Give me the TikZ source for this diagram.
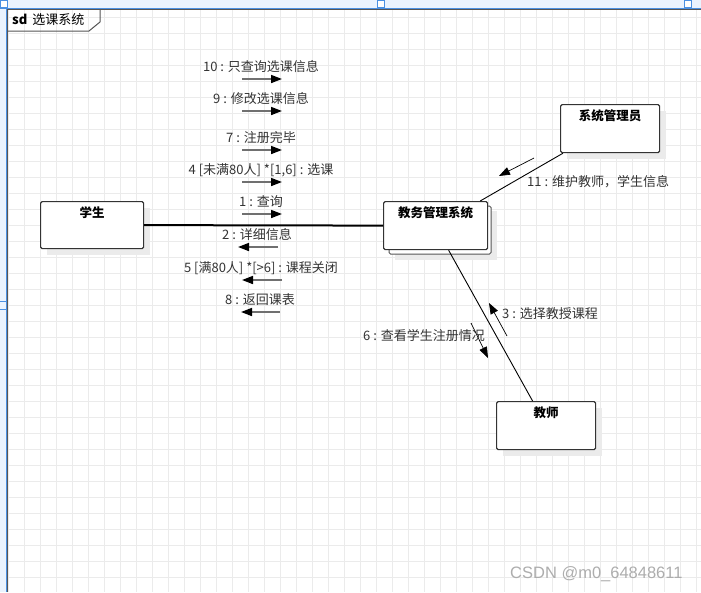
\documentclass[tikz,border=0pt]{standalone}
\usepackage{fontspec}
\setmainfont{Noto Sans CJK SC}
\newfontfamily\markfont{Liberation Sans}
\usetikzlibrary{arrows.meta}
\definecolor{gridc}{HTML}{EBEBEB}
\definecolor{rulerfill}{HTML}{EAF3FE}
\definecolor{rulerline}{HTML}{4A90E2}
\definecolor{framec}{HTML}{555555}
\definecolor{boxc}{HTML}{333333}
\definecolor{shadowc}{HTML}{EBEBEB}
\definecolor{txtc}{HTML}{333333}
\definecolor{msgc}{HTML}{707070}
\definecolor{markc}{HTML}{ADADAD}

\begin{document}
\begin{tikzpicture}[x=1pt,y=-1pt,
  obj/.style={draw=boxc, line width=1.2pt, fill=white, rounded corners=1.5pt,
    inner sep=0pt, anchor=north west},
  objback/.style={draw=framec, line width=1pt, fill=white, rounded corners=1.5pt},
  objtitle/.style={font=\fontsize{12.5}{14}\selectfont\bfseries, text=black, inner sep=0pt},
  link/.style={draw=black, line width=0.9pt},
  msglabel/.style={font=\fontsize{13}{15}\selectfont, text=txtc, inner sep=0pt},
  msgarrow/.style={draw=msgc, line width=1.6pt,
    -{Triangle[length=11pt,width=8pt,fill=black,color=black]}},
  diagarrow/.style={draw=black, line width=0.7pt,
    -{Triangle[length=11pt,width=8pt,fill=black,color=black]}},
  shadowbox/.style={fill=shadowc}
]
\useasboundingbox (0,0) rectangle (701,592);
\fill[white] (0,0) rectangle (701,592);

% background grid
\foreach \x in {8,24,...,700} \draw[gridc, line width=0.9pt] (\x,0) -- (\x,592);
\foreach \y in {1,17,...,591} \draw[gridc, line width=0.9pt] (0,\y) -- (701,\y);

% rulers along the top and left edges
\fill[rulerfill] (0,0) rectangle (701,8);
\fill[rulerfill] (0,0) rectangle (7,592);
\draw[rulerline, line width=1pt] (0,8) -- (701,8);
\draw[rulerline, line width=1pt] (6.5,8) -- (6.5,592);
\foreach \hx in {0,377,684}
  \draw[rulerline, fill=white, line width=0.8pt] (\hx+0.5,0.5) rectangle (\hx+7,7.5);
\draw[rulerline, line width=1pt] (0,301) -- (7,301);
\draw[rulerline, line width=1pt] (0,309) -- (7,309);

% sd frame and its name tab
\draw[framec, line width=1pt] (7.5,592) -- (7.5,9) -- (701,9);
\draw[framec, line width=1pt] (7.5,31) -- (89,31) -- (100,22) -- (100,9);
\node[anchor=west, inner sep=0pt, font=\fontsize{13}{15}\selectfont, text=black]
  (frametitle) at (12,20) {\textbf{sd}\hspace{5pt}选课系统};

% shadows
\fill[shadowbox] (47,208) rectangle (150,255);
\fill[shadowbox] (395,211) rectangle (497,260);
\fill[shadowbox] (567,111) rectangle (666,159);
\fill[shadowbox] (503,408) rectangle (602,456);

% objects
\node[obj, minimum width=103pt, minimum height=47pt] (stu) at (40,201) {};
\node[objtitle] (stu-t) at ([yshift=-12pt]stu.north) {学生};

\draw[objback] (389,206) rectangle (491,254);
\node[obj, minimum width=104pt, minimum height=48pt] (sys) at (383,201) {};
\node[objtitle] (sys-t) at ([yshift=-12pt]sys.north) {教务管理系统};

\node[obj, minimum width=99pt, minimum height=48pt] (adm) at (560,104) {};
\node[objtitle] (adm-t) at ([yshift=-12pt]adm.north) {系统管理员};

\node[obj, minimum width=99pt, minimum height=48pt] (tea) at (496,401) {};
\node[objtitle] (tea-t) at ([yshift=-12pt]tea.north) {教师};

% links
\draw[link, line width=2pt] (stu.east) -- (sys.west);
\draw[link] ([xshift=3pt]adm.south west) -- ([xshift=-8pt]sys.north east);
\draw[link] ([xshift=13pt]sys.south) -- ([xshift=-13.5pt]tea.north);

% messages from the student to the system
\foreach \n/\y/\t in {m10/79/{10 : 只查询选课信息},
                      m9/111/{9 : 修改选课信息},
                      m7/150/{7 : 注册完毕},
                      m4/182/{4 [未满80人] *[1,6] : 选课},
                      m1/214/{1 : 查询}} {
  \coordinate (\n-a) at (242,\y);
  \coordinate (\n-b) at (282,\y);
  \draw[msgarrow] (\n-a) -- (\n-b);
  \node[msglabel] (\n-l) at (261,\y-12) {\t};
}

% messages from the system back to the student
\foreach \n/\y/\xa/\xb/\xl/\t in {m2/247/278/238/257/{2 : 详细信息},
                                 m5/280/282/242/261/{5 [满80人] *[>6] : 课程关闭},
                                 m8/312/280/241/260/{8 : 返回课表}} {
  \coordinate (\n-a) at (\xa,\y);
  \coordinate (\n-b) at (\xb,\y);
  \draw[msgarrow] (\n-a) -- (\n-b);
  \node[msglabel] (\n-l) at (\xl,\y-12) {\t};
}

% message from the administrator
\coordinate (m11-a) at (534,158);
\coordinate (m11-b) at (499,176);
\draw[diagarrow] (m11-a) -- (m11-b);
\node[msglabel, anchor=west] (m11-l) at (527,182) {11 : 维护教师，学生信息};

% messages between the system and the teacher
\coordinate (m3-a) at (507,336);
\coordinate (m3-b) at (489,303);
\draw[diagarrow] (m3-a) -- (m3-b);
\node[msglabel, anchor=west] (m3-l) at (502,314) {3 : 选择教授课程};

\coordinate (m6-a) at (471,323);
\coordinate (m6-b) at (488,358);
\draw[diagarrow] (m6-a) -- (m6-b);
\node[msglabel, anchor=east] (m6-l) at (485,336) {6 : 查看学生注册情况};

% watermark
\node[anchor=west, inner sep=0pt, font=\markfont\fontsize{16.5}{18}\selectfont, text=markc]
  (wm) at (510,574) {CSDN @m0\_64848611};
\end{tikzpicture}
\end{document}
